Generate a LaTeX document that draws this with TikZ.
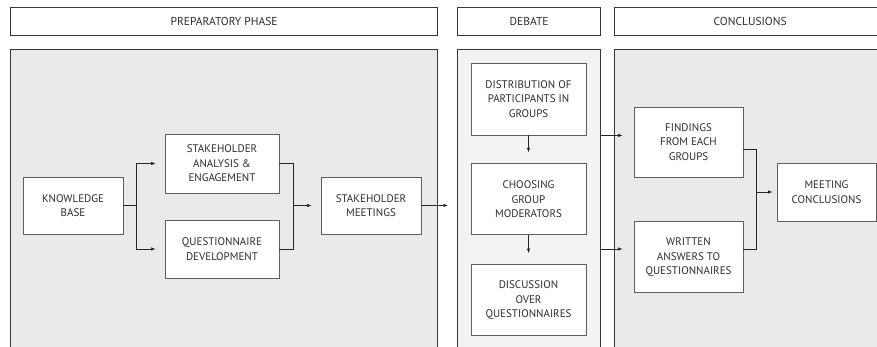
\documentclass[tikz,border=0pt]{standalone}
\usepackage{fontspec}
\setmainfont{PT Sans}
\usetikzlibrary{arrows.meta,positioning,calc}
\definecolor{phaseline}{RGB}{55,55,55}
\definecolor{boxline}{RGB}{95,95,95}
\definecolor{panelfill}{RGB}{234,234,234}
\definecolor{debatefill}{RGB}{243,243,243}
\definecolor{labeltext}{RGB}{45,45,45}

\begin{document}
\begin{tikzpicture}[x=1pt, y=-1pt, font=\fontsize{11}{14.5}\selectfont, text=labeltext]
    % Define styles
    \tikzstyle{header} = [rectangle, draw=phaseline, line width=1.3pt, fill=white,
                          minimum height=28pt, inner sep=0pt, anchor=north west,
                          font=\fontsize{11.5}{14}\selectfont]
    \tikzstyle{panel} = [rectangle, draw=phaseline, line width=1.3pt, fill=panelfill,
                         minimum height=315pt, inner sep=0pt, anchor=north west]
    \tikzstyle{stage} = [rectangle, draw=boxline, line width=0.8pt, fill=white,
                         align=center, inner sep=0pt]
    \tikzstyle{link} = [line width=0.7pt, draw=black!85]
    \tikzstyle{flow} = [link, -{Latex[length=4.5pt,width=3.5pt]}, shorten >=9pt]

    \fill[white] (0,0) rectangle (877,347);
    \useasboundingbox (0,0) rectangle (877,347);
    \clip (0,0) rectangle (877,347);

    % Phases
    \node[header, minimum width=427pt] (prephead) at (10,7) {PREPARATORY PHASE};
    \node[header, minimum width=143pt] (debhead) at (457,7) {DEBATE};
    \node[header, minimum width=276pt] (conhead) at (614,7) {\hspace*{-5pt}CONCLUSIONS};
    \node[panel, minimum width=427pt] (prep) at (10,49) {};
    \node[panel, minimum width=143pt, fill=debatefill] (debate) at (457,49) {};
    \node[panel, minimum width=276pt] (concl) at (614,49) {};

    % Nodes
    \node[stage, minimum width=100pt, minimum height=57pt] (kb) at (73,205.5) {KNOWLEDGE\\BASE};
    \node[stage, minimum width=114pt, minimum height=59pt] (sa) at (222,163.5) {STAKEHOLDER\\ANALYSIS \&\\ENGAGEMENT};
    \node[stage, minimum width=114pt, minimum height=58pt] (qd) at (222,249) {QUESTIONNAIRE\\DEVELOPMENT};
    \node[stage, minimum width=100pt, minimum height=57pt] (sm) at (371,205.5) {STAKEHOLDER\\MEETINGS};
    \node[stage, minimum width=115pt, minimum height=72pt] (dist) at (528.5,99) {DISTRIBUTION OF\\PARTICIPANTS IN\\GROUPS};
    \node[stage, minimum width=115pt, minimum height=71pt, below=28pt of dist] (moder) {CHOOSING\\GROUP\\MODERATORS};
    \node[stage, minimum width=115pt, minimum height=71pt, below=29pt of moder] (disc) {DISCUSSION\\OVER\\QUESTIONNAIRES};
    \node[stage, minimum width=109pt, minimum height=70pt] (find) at (688.5,142) {FINDINGS\\FROM EACH\\GROUPS};
    \node[stage, minimum width=109pt, minimum height=71pt, below=44pt of find] (answers) {WRITTEN\\ANSWERS TO\\QUESTIONNAIRES};
    \node[stage, minimum width=99pt, minimum height=58pt] (meetconcl) at (826.5,192) {MEETING\\CONCLUSIONS};

    % Connections
    \draw[link] (kb.east) -- ++(13,0) coordinate (kbsplit);
    \draw[flow] (kbsplit) |- (sa.west);
    \draw[flow] (kbsplit) |- (qd.west);
    \draw[link] (sa.east) -- ++(14,0) coordinate (samerge) |- (qd.east);
    \draw[flow] (samerge |- sm.west) -- (sm.west);
    \draw[flow] (sm.east) -- (debate.west |- sm.east);
    \draw[flow, shorten >=11pt] (dist.south) -- (moder.north);
    \draw[flow, shorten >=11pt] (moder.south) -- (disc.north);
    \draw[flow, shorten >=11pt] (debate.east |- dist.south) -- (find.west |- dist.south);
    \draw[flow, shorten >=11pt] (debate.east |- qd.east) -- (answers.west |- qd.east);
    \draw[link] ([yshift=-7pt]find.east) -- ++(13,0) coordinate (findmerge) |- ([yshift=7.5pt]answers.east);
    \draw[flow, shorten >=4pt] (findmerge |- meetconcl.west) -- (meetconcl.west);
\end{tikzpicture}
\end{document}
